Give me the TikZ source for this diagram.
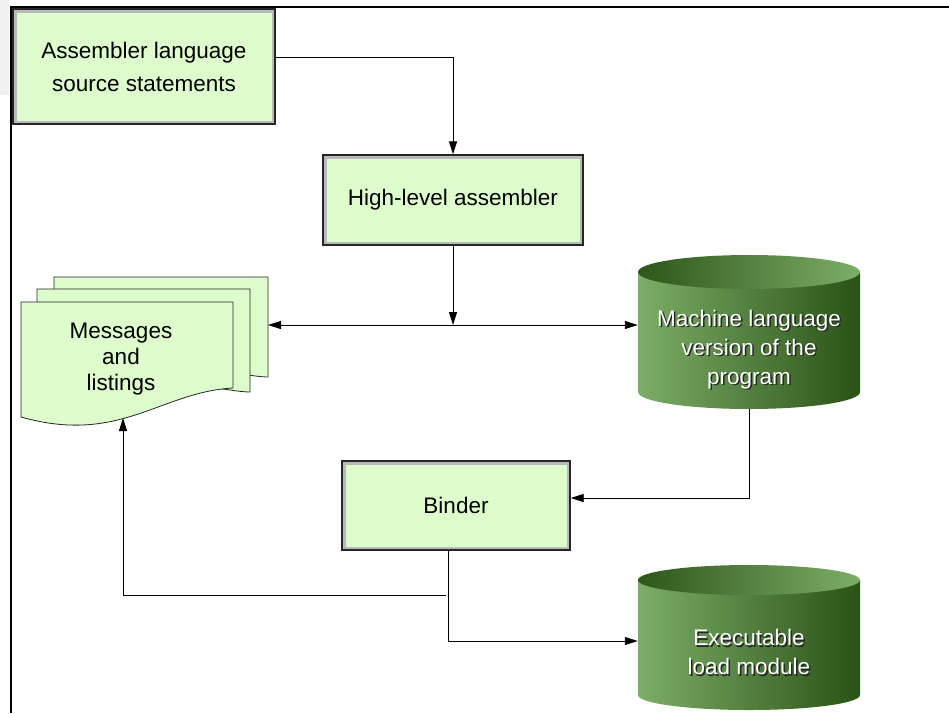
\documentclass[tikz,border=0pt]{standalone}
\usepackage{fontspec}
\setmainfont{Liberation Sans}
\usetikzlibrary{arrows.meta}
\definecolor{boxgreen}{RGB}{221,253,204}
\definecolor{cyllight}{RGB}{124,174,104}
\definecolor{cylmid}{RGB}{74,122,52}
\definecolor{cyldark}{RGB}{42,82,22}
\newcommand\shadowtext[1]{\rlap{\kern1.5pt\raisebox{-1.5pt}{\color{black!85}\begin{tabular}{@{}c@{}}#1\end{tabular}}}{\color{white}\begin{tabular}{@{}c@{}}#1\end{tabular}}}

\begin{document}
\begin{tikzpicture}[x=1pt, y=-1pt,
  box/.style={draw=black!85, line width=1.4pt, fill=boxgreen, align=center,
    font=\fontsize{22.5}{27}\selectfont,
    path picture={\draw[gray!55, line width=7pt] (path picture bounding box.north west) rectangle (path picture bounding box.south east);}},
  page/.style={draw=black!85, line width=0.8pt, fill=boxgreen},
  cyltext/.style={inner sep=0pt, minimum width=222pt, font=\fontsize{22.5}{29}\selectfont},
  flow/.style={-{Triangle[length=13pt,width=8pt]}, line width=0.9pt},
  twoway/.style={{Triangle[length=13pt,width=8pt]}-{Triangle[length=13pt,width=8pt]}, line width=0.9pt}]
\useasboundingbox (0,0) rectangle (949,713);
\fill[gray!12] (0,0) rectangle (9,95);
\draw[line width=1.2pt] (11,713) -- (11,7) -- (949,7);

\node[box, minimum width=262pt, minimum height=115pt, font=\fontsize{22.5}{33}\selectfont] (src) at (144,66.5) {Assembler language\\source statements};
\node[box, minimum width=260pt, minimum height=90pt] (asm) at (453,200) {High-level assembler};
\node[box, minimum width=228pt, minimum height=89pt] (binder) at (456,505.5) {Binder};

\filldraw[page] (54,277) -- (268,277) -- (268,377) .. controls (240,377) and (140,350) .. (54,360) -- cycle;
\filldraw[page] (37,289) -- (250,289) -- (250,392) .. controls (222,392) and (120,365) .. (37,375) -- cycle;
\filldraw[page] (21,302) -- (233,302) -- (233,388) .. controls (160,392) and (120,445) .. (21,417) -- cycle;
\node[align=center, font=\fontsize{22.5}{26}\selectfont] (msgs) at (121,359) {Messages\\and\\listings};
\coordinate (msgsin) at (268,325);
\coordinate (msgsup) at (123,418);

\shade[left color=cyllight, middle color=cylmid, right color=cyldark] (638,272) -- (638,392) arc[start angle=180, end angle=360, x radius=111pt, y radius=17pt] -- (860,272) -- cycle;
\shade[left color=cyldark!90!cylmid, right color=cyllight] (749,272) ellipse [x radius=111pt, y radius=17pt];
\node[cyltext, minimum height=118pt] (mach) at (749,350) {\shadowtext{Machine language\\version of the\\program}};

\shade[left color=cyllight, middle color=cylmid, right color=cyldark] (638,580) -- (638,695) arc[start angle=180, end angle=360, x radius=111pt, y radius=15pt] -- (860,580) -- cycle;
\shade[left color=cyldark!90!cylmid, right color=cyllight] (749,580) ellipse [x radius=111pt, y radius=15pt];
\node[cyltext, minimum height=110pt] (exec) at (749,655) {\shadowtext{Executable\\load module}};

\coordinate (split) at (asm.south |- msgsin);
\coordinate (fork) at (446,595);
\draw[flow] ([yshift=9pt]src.east) -| (asm.north);
\draw[flow] (asm.south) -- (split);
\draw[twoway] (msgsin) -- (split -| mach.west);
\draw[flow] (mach.south) |- ([yshift=7.5pt]binder.east);
\draw[flow] ([xshift=-8pt]binder.south) |- ([yshift=14pt]exec.west);
\draw[flow] (fork) -| (msgsup);
\end{tikzpicture}
\end{document}
